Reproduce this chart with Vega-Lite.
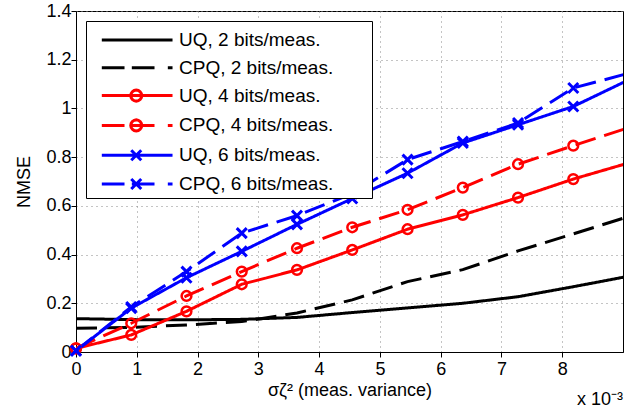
{
  "$schema": "https://vega.github.io/schema/vega-lite/v6.json",
  "width": 547,
  "height": 341,
  "autosize": {"type": "none"},
  "padding": {"left": 76, "top": 11, "right": 12, "bottom": 66},
  "background": "white",
  "config": {
    "view": {"stroke": "black", "strokeWidth": 1},
    "font": "Liberation Sans",
    "axis": {
      "labelFont": "Liberation Sans",
      "labelFontSize": 18,
      "labelColor": "black",
      "titleFont": "Liberation Sans",
      "titleFontSize": 18,
      "titleFontWeight": "normal",
      "titleColor": "black",
      "domainColor": "black",
      "domainWidth": 1,
      "tickColor": "black",
      "tickWidth": 1,
      "labelFlush": false,
      "labelOverlap": false
    }
  },
  "title": {
    "text": "x 10⁻³",
    "orient": "bottom",
    "anchor": "end",
    "font": "Liberation Sans",
    "fontSize": 18,
    "fontWeight": "normal",
    "color": "black",
    "offset": -8
  },
  "data": {
    "values": [
      {"series": "UQ, 2 bits/meas.", "bits": 2, "x": 0, "y": 0.137},
      {"series": "UQ, 2 bits/meas.", "bits": 2, "x": 0.909, "y": 0.133},
      {"series": "UQ, 2 bits/meas.", "bits": 2, "x": 1.818, "y": 0.132},
      {"series": "UQ, 2 bits/meas.", "bits": 2, "x": 2.727, "y": 0.134},
      {"series": "UQ, 2 bits/meas.", "bits": 2, "x": 3.636, "y": 0.142},
      {"series": "UQ, 2 bits/meas.", "bits": 2, "x": 4.545, "y": 0.162},
      {"series": "UQ, 2 bits/meas.", "bits": 2, "x": 5.455, "y": 0.181},
      {"series": "UQ, 2 bits/meas.", "bits": 2, "x": 6.364, "y": 0.2},
      {"series": "UQ, 2 bits/meas.", "bits": 2, "x": 7.273, "y": 0.227},
      {"series": "UQ, 2 bits/meas.", "bits": 2, "x": 8.182, "y": 0.268},
      {"series": "UQ, 2 bits/meas.", "bits": 2, "x": 9.091, "y": 0.311},
      {"series": "CPQ, 2 bits/meas.", "bits": 2, "x": 0, "y": 0.097},
      {"series": "CPQ, 2 bits/meas.", "bits": 2, "x": 0.909, "y": 0.101},
      {"series": "CPQ, 2 bits/meas.", "bits": 2, "x": 1.818, "y": 0.111},
      {"series": "CPQ, 2 bits/meas.", "bits": 2, "x": 2.727, "y": 0.125},
      {"series": "CPQ, 2 bits/meas.", "bits": 2, "x": 3.636, "y": 0.16},
      {"series": "CPQ, 2 bits/meas.", "bits": 2, "x": 4.545, "y": 0.214},
      {"series": "CPQ, 2 bits/meas.", "bits": 2, "x": 5.455, "y": 0.289},
      {"series": "CPQ, 2 bits/meas.", "bits": 2, "x": 6.364, "y": 0.338},
      {"series": "CPQ, 2 bits/meas.", "bits": 2, "x": 7.273, "y": 0.415},
      {"series": "CPQ, 2 bits/meas.", "bits": 2, "x": 8.182, "y": 0.485},
      {"series": "CPQ, 2 bits/meas.", "bits": 2, "x": 9.091, "y": 0.556},
      {"series": "UQ, 4 bits/meas.", "bits": 4, "x": 0, "y": 0.015},
      {"series": "UQ, 4 bits/meas.", "bits": 4, "x": 0.909, "y": 0.07},
      {"series": "UQ, 4 bits/meas.", "bits": 4, "x": 1.818, "y": 0.167},
      {"series": "UQ, 4 bits/meas.", "bits": 4, "x": 2.727, "y": 0.278},
      {"series": "UQ, 4 bits/meas.", "bits": 4, "x": 3.636, "y": 0.337},
      {"series": "UQ, 4 bits/meas.", "bits": 4, "x": 4.545, "y": 0.419},
      {"series": "UQ, 4 bits/meas.", "bits": 4, "x": 5.455, "y": 0.504},
      {"series": "UQ, 4 bits/meas.", "bits": 4, "x": 6.364, "y": 0.563},
      {"series": "UQ, 4 bits/meas.", "bits": 4, "x": 7.273, "y": 0.634},
      {"series": "UQ, 4 bits/meas.", "bits": 4, "x": 8.182, "y": 0.71},
      {"series": "UQ, 4 bits/meas.", "bits": 4, "x": 9.091, "y": 0.776},
      {"series": "CPQ, 4 bits/meas.", "bits": 4, "x": 0, "y": 0.015},
      {"series": "CPQ, 4 bits/meas.", "bits": 4, "x": 0.909, "y": 0.118},
      {"series": "CPQ, 4 bits/meas.", "bits": 4, "x": 1.818, "y": 0.23},
      {"series": "CPQ, 4 bits/meas.", "bits": 4, "x": 2.727, "y": 0.33},
      {"series": "CPQ, 4 bits/meas.", "bits": 4, "x": 3.636, "y": 0.426},
      {"series": "CPQ, 4 bits/meas.", "bits": 4, "x": 4.545, "y": 0.512},
      {"series": "CPQ, 4 bits/meas.", "bits": 4, "x": 5.455, "y": 0.584},
      {"series": "CPQ, 4 bits/meas.", "bits": 4, "x": 6.364, "y": 0.675},
      {"series": "CPQ, 4 bits/meas.", "bits": 4, "x": 7.273, "y": 0.771},
      {"series": "CPQ, 4 bits/meas.", "bits": 4, "x": 8.182, "y": 0.847},
      {"series": "CPQ, 4 bits/meas.", "bits": 4, "x": 9.091, "y": 0.921},
      {"series": "UQ, 6 bits/meas.", "bits": 6, "x": 0, "y": 0.005},
      {"series": "UQ, 6 bits/meas.", "bits": 6, "x": 0.909, "y": 0.18},
      {"series": "UQ, 6 bits/meas.", "bits": 6, "x": 1.818, "y": 0.305},
      {"series": "UQ, 6 bits/meas.", "bits": 6, "x": 2.727, "y": 0.413},
      {"series": "UQ, 6 bits/meas.", "bits": 6, "x": 3.636, "y": 0.524},
      {"series": "UQ, 6 bits/meas.", "bits": 6, "x": 4.545, "y": 0.63},
      {"series": "UQ, 6 bits/meas.", "bits": 6, "x": 5.455, "y": 0.734},
      {"series": "UQ, 6 bits/meas.", "bits": 6, "x": 6.364, "y": 0.858},
      {"series": "UQ, 6 bits/meas.", "bits": 6, "x": 7.273, "y": 0.933},
      {"series": "UQ, 6 bits/meas.", "bits": 6, "x": 8.182, "y": 1.008},
      {"series": "UQ, 6 bits/meas.", "bits": 6, "x": 9.091, "y": 1.117},
      {"series": "CPQ, 6 bits/meas.", "bits": 6, "x": 0, "y": 0.005},
      {"series": "CPQ, 6 bits/meas.", "bits": 6, "x": 0.909, "y": 0.185},
      {"series": "CPQ, 6 bits/meas.", "bits": 6, "x": 1.818, "y": 0.33},
      {"series": "CPQ, 6 bits/meas.", "bits": 6, "x": 2.727, "y": 0.488},
      {"series": "CPQ, 6 bits/meas.", "bits": 6, "x": 3.636, "y": 0.56},
      {"series": "CPQ, 6 bits/meas.", "bits": 6, "x": 4.545, "y": 0.65},
      {"series": "CPQ, 6 bits/meas.", "bits": 6, "x": 5.455, "y": 0.79},
      {"series": "CPQ, 6 bits/meas.", "bits": 6, "x": 6.364, "y": 0.864},
      {"series": "CPQ, 6 bits/meas.", "bits": 6, "x": 7.273, "y": 0.94},
      {"series": "CPQ, 6 bits/meas.", "bits": 6, "x": 8.182, "y": 1.084},
      {"series": "CPQ, 6 bits/meas.", "bits": 6, "x": 9.091, "y": 1.144}
    ]
  },
  "resolve": {"legend": {"color": "independent", "shape": "independent", "strokeDash": "independent"}},
  "layer": [
    {
      "mark": {"type": "line", "strokeWidth": 3, "clip": true},
      "encoding": {
        "x": {
          "field": "x", "type": "quantitative",
          "scale": {"domain": [0, 9], "nice": false, "zero": false},
          "axis": {
            "orient": "bottom", "values": [0, 1, 2, 3, 4, 5, 6, 7, 8], "format": "d",
            "title": "σζ² (meas. variance)", "grid": true,
            "gridColor": "#888888", "gridDash": [1, 4], "gridWidth": 1, "gridOpacity": 1,
            "tickSize": 5,
            "labelPadding": 3, "titlePadding": 3
          }
        },
        "y": {
          "field": "y", "type": "quantitative",
          "scale": {"domain": [0, 1.4], "nice": false, "zero": false},
          "axis": {
            "orient": "left", "values": [0, 0.2, 0.4, 0.6, 0.8, 1, 1.2, 1.4], "format": "~g",
            "title": "NMSE", "grid": true,
            "gridColor": "#888888", "gridDash": [1, 4], "gridWidth": 1, "gridOpacity": 1,
            "tickSize": 5,
            "labelPadding": 0, "titlePadding": 12
          }
        },
        "color": {
          "field": "series", "type": "nominal",
          "scale": {
            "domain": ["UQ, 2 bits/meas.", "CPQ, 2 bits/meas.", "UQ, 4 bits/meas.", "CPQ, 4 bits/meas.", "UQ, 6 bits/meas.", "CPQ, 6 bits/meas."],
            "range": ["#000000", "#000000", "#ff0000", "#ff0000", "#0000ff", "#0000ff"]
          },
          "legend": null
        },
        "strokeDash": {
          "field": "series", "type": "nominal",
          "scale": {
            "domain": ["UQ, 2 bits/meas.", "CPQ, 2 bits/meas.", "UQ, 4 bits/meas.", "CPQ, 4 bits/meas.", "UQ, 6 bits/meas.", "CPQ, 6 bits/meas."],
            "range": [[1, 0], [21, 9], [1, 0], [21, 9], [1, 0], [21, 9]]
          },
          "legend": null
        }
      }
    },
    {
      "transform": [{"filter": "datum.bits == 4 && datum.x <= 9"}],
      "mark": {"type": "point", "shape": "circle", "filled": false, "size": 95, "strokeWidth": 2.5, "opacity": 1, "clip": false},
      "encoding": {
        "x": {"field": "x", "type": "quantitative"},
        "y": {"field": "y", "type": "quantitative"},
        "color": {"field": "series", "type": "nominal", "legend": null}
      }
    },
    {
      "transform": [{"filter": "datum.bits == 6 && datum.x <= 9"}],
      "mark": {"type": "point", "shape": "M-1,-1L1,1M-1,1L1,-1", "filled": false, "size": 100, "strokeWidth": 3, "opacity": 1, "clip": false},
      "encoding": {
        "x": {"field": "x", "type": "quantitative"},
        "y": {"field": "y", "type": "quantitative"},
        "color": {"field": "series", "type": "nominal", "legend": null}
      }
    },
    {
      "transform": [{"filter": "datum.x > 9"}],
      "mark": {"type": "point", "filled": false, "strokeWidth": 3, "opacity": 1, "clip": true},
      "encoding": {
        "x": {"field": "x", "type": "quantitative"},
        "y": {"field": "y", "type": "quantitative"},
        "color": {
          "field": "series", "type": "nominal",
          "legend": {
            "title": null, "orient": "none", "legendX": 10, "legendY": 10, "direction": "vertical",
            "padding": 3, "strokeColor": "black", "fillColor": "white", "cornerRadius": 0,
            "labelFont": "Liberation Sans", "labelFontSize": 19, "labelColor": "black", "labelLimit": 400,
            "labelOffset": 58, "symbolSize": 807, "symbolStrokeWidth": 3, "rowPadding": 1.8, "symbolOffset": 0, "zindex": 1
          }
        },
        "shape": {
          "field": "series", "type": "nominal",
          "scale": {
            "domain": ["UQ, 2 bits/meas.", "CPQ, 2 bits/meas.", "UQ, 4 bits/meas.", "CPQ, 4 bits/meas.", "UQ, 6 bits/meas.", "CPQ, 6 bits/meas."],
            "range": [
              "M-1,0M18.1,0M-0.225,0H4.754",
              "M-1,0M18.1,0M-0.225,0H1.374M1.888,0H3.486M4.423,0H4.754",
              "M-1,0M18.1,0M-0.225,0H4.754M2.587,0L2.558,0.148L2.474,0.274L2.348,0.358L2.2,0.387L2.052,0.358L1.926,0.274L1.842,0.148L1.813,0L1.842,-0.148L1.926,-0.274L2.052,-0.358L2.2,-0.387L2.348,-0.358L2.474,-0.274L2.558,-0.148Z",
              "M-1,0M18.1,0M-0.225,0H1.374M1.888,0H3.486M4.423,0H4.754M2.587,0L2.558,0.148L2.474,0.274L2.348,0.358L2.2,0.387L2.052,0.358L1.926,0.274L1.842,0.148L1.813,0L1.842,-0.148L1.926,-0.274L2.052,-0.358L2.2,-0.387L2.348,-0.358L2.474,-0.274L2.558,-0.148Z",
              "M-1,0M18.1,0M-0.225,0H4.754M1.848,-0.352L2.552,0.352M1.848,0.352L2.552,-0.352",
              "M-1,0M18.1,0M-0.225,0H1.374M1.888,0H3.486M4.423,0H4.754M1.848,-0.352L2.552,0.352M1.848,0.352L2.552,-0.352"
            ]
          },
          "legend": {
            "title": null, "orient": "none", "legendX": 10, "legendY": 10, "direction": "vertical",
            "padding": 3, "strokeColor": "black", "fillColor": "white", "cornerRadius": 0,
            "labelFont": "Liberation Sans", "labelFontSize": 19, "labelColor": "black", "labelLimit": 400,
            "labelOffset": 58, "symbolSize": 807, "symbolStrokeWidth": 3, "rowPadding": 1.8, "symbolOffset": 0, "zindex": 1
          }
        }
      }
    }
  ]
}
